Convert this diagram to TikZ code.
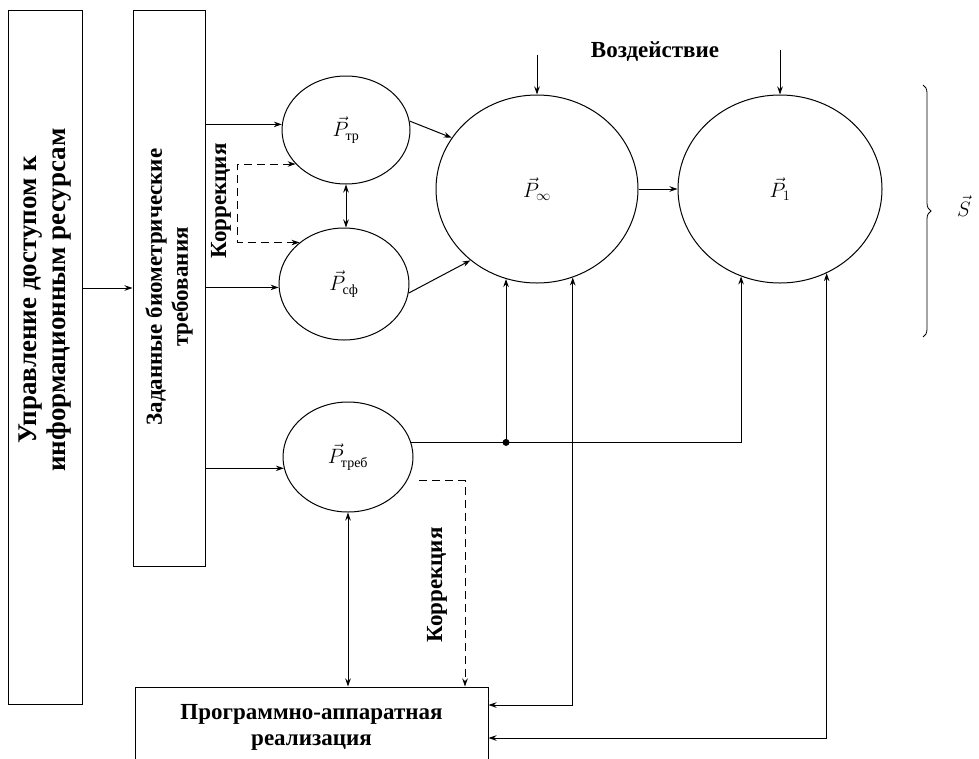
\documentclass[tikz,border=0pt]{standalone}
\usepackage{fontspec}
\setmainfont{Liberation Serif}
\usepackage{amsmath}
\usetikzlibrary{shapes.geometric,arrows.meta,decorations.pathreplacing}
\begin{document}
\begin{tikzpicture}[x=1pt,y=-1pt,
  line width=1pt,
  >={Stealth[length=8pt,width=5.5pt]},
  dsh/.style={dash pattern=on 8pt off 5pt},
  blk/.style={draw,rectangle,inner sep=0pt},
  ell/.style={draw,ellipse,inner sep=0pt,font=\fontsize{20}{24}\selectfont},
  lbl/.style={font=\fontsize{23}{26}\selectfont\bfseries,align=center},
  biglbl/.style={font=\fontsize{27}{29}\selectfont\bfseries,align=center},
  mlbl/.style={font=\fontsize{20}{24}\selectfont}
]
\useasboundingbox (0,0) rectangle (979,758);
\clip (0,0) rectangle (979,758);
% boxes
\node[blk,minimum width=74pt,minimum height=694pt] (a) at (45,357) {};
\node[biglbl,rotate=90] (at) at (45,300) {Управление доступом к\\информационным ресурсам};
\node[blk,minimum width=72pt,minimum height=556pt] (b) at (169,288) {};
\node[lbl,rotate=90] (bt) at (169,287) {Заданные биометрические\\требования};
\node[blk,minimum width=353pt,minimum height=82pt] (p) at (311.5,728) {};
\node[lbl] (pt) at (311.5,727) {Программно-аппаратная\\реализация};
% ellipses with labels
\node[ell,minimum width=128pt,minimum height=108pt] (c1) at (346,130) {$\vec{P}_{\text{тр}}$};
\node[ell,minimum width=130pt,minimum height=112pt] (c2) at (344,284) {$\vec{P}_{\text{сф}}$};
\node[ell,minimum width=130pt,minimum height=110pt] (c3) at (348,457) {$\vec{P}_{\text{треб}}$};
\node[ell,minimum width=202pt,minimum height=188pt] (c4) at (537,189) {$\vec{P}_{\infty}$};
\node[ell,minimum width=204pt,minimum height=188pt] (c5) at (780,189) {$\vec{P}_{1}$};
% texts
\node[lbl] (vt) at (655,52) {Воздействие};
\node[lbl,rotate=90] (k1t) at (221,201) {Коррекция};
\node[lbl,rotate=90] (k2t) at (437,585) {Коррекция};
% connectors
\draw[->] (a.east |- b.west) -- (b.west);
\draw[->] (b.east |- c1.175) -- (c1.175);
\draw[->] (b.east |- c2.183) -- (c2.183);
\draw[->] (b.east |- c3.190) -- (c3.190);
\coordinate (kx) at (237,0);
\draw[dsh,<->] (c1.214) -- (c1.214 -| kx) -- (c2.137 -| kx) -- (c2.137);
\draw[<->] (c1.south) -- (c1.south |- c2.north);
\draw[->] (c1.8) -- (c4.149);
\draw[->] (c2.-8) -- (c4.227);
\draw[->] (c4.east) -- (c5.west);
\draw[->] ([yshift=40pt]c4.north) -- (c4.north);
\draw[->] ([yshift=45pt]c5.north) -- (c5.north);
\draw[->] (c3.13) -- (c3.13 -| c5.246) -- (c5.246);
\coordinate (dot) at (c3.13 -| c4.251);
\fill (dot) circle (3.5pt);
\draw[->] (dot) -- (c4.251);
\draw[<->] (c4.292) |- ([yshift=23pt]p.east);
\draw[<->] (c5.299) |- ([yshift=-10pt]p.east);
\draw[<->] (c3.south) -- (c3.south |- p.north);
\coordinate (kx2) at (465,0);
\draw[dsh,->] ([xshift=12pt]c3.-22) -| (kx2 |- p.north);
% brace
\coordinate (br1) at (923,85);
\coordinate (br2) at (923,337);
\draw[line width=0.8pt,decorate,decoration={brace,amplitude=8pt}] (br1) -- (br2);
\node[mlbl] (s) at (964,206) {$\vec{S}$};
\end{tikzpicture}
\end{document}
